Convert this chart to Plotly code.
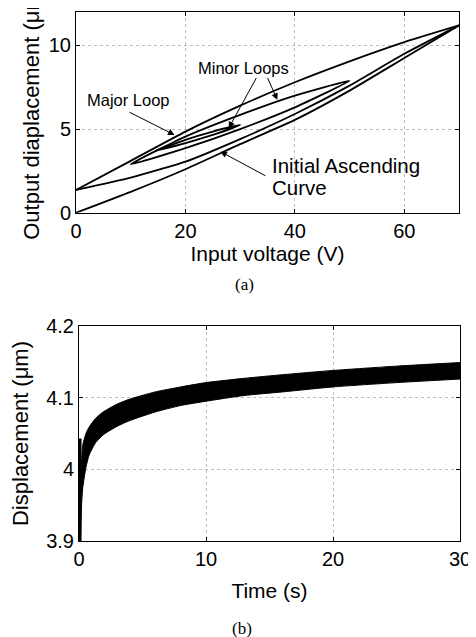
import plotly.graph_objects as go

# ---------------- (a) hysteresis data ----------------
init_v = [0, 10, 20, 30, 40, 50, 60, 70]
init_d = [0, 1.25, 2.6, 4.1, 5.55, 7.3, 9.25, 11.2]

major_desc_v = [70, 60, 50, 40, 30, 20, 10, 0]
major_desc_d = [11.2, 10.2, 9.05, 7.8, 6.4, 4.85, 3.1, 1.36]
major_asc_v = [0, 10, 20, 30, 40, 50, 60, 70]
major_asc_d = [1.36, 2.1, 3.05, 4.4, 5.9, 7.6, 9.5, 11.2]

minor1_v = [10, 20, 30, 40, 50, 40, 30, 20, 10]
minor1_d = [2.9, 3.86, 5.0, 6.3, 7.89, 7.0, 5.85, 4.55, 2.9]

minor2_v = [14.5, 20, 25, 30, 25, 20, 14.5]
minor2_d = [3.7, 4.16, 4.65, 5.25, 4.85, 4.36, 3.7]

# ---------------- (b) creep data ----------------
t_env = [0.12, 0.2, 0.3, 0.55, 0.8, 1.3, 1.9, 3, 4, 6, 8, 10, 13, 16, 20, 25, 30]
d_upper = [3.98, 4.01, 4.034, 4.05, 4.059, 4.071, 4.08, 4.091, 4.098, 4.108,
           4.115, 4.121, 4.127, 4.132, 4.138, 4.144, 4.149]
d_lower = [3.9, 3.95, 3.975, 4.003, 4.02, 4.037, 4.048, 4.06, 4.068, 4.08,
           4.089, 4.095, 4.103, 4.108, 4.115, 4.121, 4.126]
spike_t = [0.1, 0.1]
spike_d = [3.9, 4.043]

xa_ticks = [0, 20, 40, 60]
ya_ticks = [0, 5, 10]
xb_ticks = [0, 10, 20, 30]
yb_ticks = [3.9, 4.0, 4.1, 4.2]
yb_labels = ["3.9", "4", "4.1", "4.2"]

FONT = "Liberation Sans, Arial, sans-serif"

# the page body adds an 8px margin; the figure is sized so the page matches 476x637
OFF = 8
W, H = 476 - OFF, 637 - OFF


def px(xp):
    return (xp - OFF) / W


def py(yp):
    return 1 - (yp - OFF) / H


fig = go.Figure()

lw = 1.8
for xs, ys in [(init_v, init_d), (major_desc_v, major_desc_d), (major_asc_v, major_asc_d),
               (minor1_v, minor1_d), (minor2_v, minor2_d)]:
    fig.add_trace(go.Scatter(x=xs, y=ys, mode="lines",
                             line=dict(color="black", width=lw, shape="spline", smoothing=0.5),
                             xaxis="x", yaxis="y", showlegend=False, hoverinfo="skip"))

fig.add_trace(go.Scatter(x=t_env, y=d_lower, mode="lines",
                         line=dict(color="black", width=1, shape="spline", smoothing=0.6),
                         xaxis="x2", yaxis="y2", showlegend=False, hoverinfo="skip"))
fig.add_trace(go.Scatter(x=t_env, y=d_upper, mode="lines",
                         line=dict(color="black", width=1, shape="spline", smoothing=0.6),
                         fill="tonexty", fillcolor="black",
                         xaxis="x2", yaxis="y2", showlegend=False, hoverinfo="skip"))
fig.add_trace(go.Scatter(x=spike_t, y=spike_d, mode="lines", line=dict(color="black", width=2.5),
                         xaxis="x2", yaxis="y2", showlegend=False, hoverinfo="skip"))

axcommon = dict(showline=True, linecolor="black", linewidth=1, mirror="ticks", ticks="inside",
                ticklen=4, tickcolor="black", showgrid=True, gridcolor="#bdbdbd", griddash="dot",
                gridwidth=1, zeroline=False, automargin=False,
                tickfont=dict(family=FONT, size=20, color="black"))

fig.update_layout(
    width=W, height=H, autosize=False,
    margin=dict(l=0, r=0, t=0, b=0),
    paper_bgcolor="white", plot_bgcolor="white",
    font=dict(family=FONT, color="black"),
    xaxis=dict(domain=[px(76), px(459)], range=[0, 70], tickvals=xa_ticks, anchor="y",
               title=dict(text="Input voltage (V)", font=dict(size=21), standoff=2), **axcommon),
    yaxis=dict(domain=[py(212.7), py(12)], range=[0, 12], tickvals=ya_ticks, anchor="x",
               title=dict(text="Output diaplacement (μm)", font=dict(size=22), standoff=3), **axcommon),
    xaxis2=dict(domain=[px(79), px(460)], range=[0, 30], tickvals=xb_ticks, anchor="y2",
                title=dict(text="Time (s)", font=dict(size=21), standoff=14), **axcommon),
    yaxis2=dict(domain=[py(541), py(326)], range=[3.9, 4.2], tickvals=yb_ticks, ticktext=yb_labels,
                anchor="x2", title=dict(text="Displacement (μm)", font=dict(size=22), standoff=12), **axcommon),
)

ann_font = dict(family=FONT, size=16.5, color="black")
arrows = [
    (18.0, 4.65, 9.52, 6.05),
    (27.9, 5.05, 33.1, 8.14),
    (36.8, 6.75, 34.9, 8.14),
    (26.4, 3.65, 34.9, 2.16),
]
for hx, hy, tx, ty in arrows:
    fig.add_annotation(x=hx, y=hy, ax=tx, ay=ty, xref="x", yref="y", axref="x", ayref="y",
                       text="", showarrow=True, arrowhead=2, arrowsize=1.3, arrowwidth=1,
                       arrowcolor="black", standoff=0, startstandoff=0)

fig.add_annotation(x=9.52, y=6.75, xref="x", yref="y", text="Major Loop", showarrow=False, font=ann_font)
fig.add_annotation(x=30.6, y=8.68, xref="x", yref="y", text="Minor Loops", showarrow=False, font=ann_font)
big_font = dict(family=FONT, size=20.5, color="black")
fig.add_annotation(x=35.5, y=2.8, xref="x", yref="y", text="Initial Ascending", xanchor="left",
                   showarrow=False, font=big_font)
fig.add_annotation(x=35.5, y=1.52, xref="x", yref="y", text="Curve", xanchor="left",
                   showarrow=False, font=big_font)

cap_font = dict(family="Liberation Serif, Times New Roman, serif", size=17, color="black")
fig.add_annotation(x=px(244), y=py(285), xref="paper", yref="paper", text="(a)", showarrow=False,
                   xanchor="center", yanchor="middle", font=cap_font)
fig.add_annotation(x=px(241.7), y=py(628), xref="paper", yref="paper", text="(b)", showarrow=False,
                   xanchor="center", yanchor="middle", font=cap_font)

fig.write_html("out.html")
